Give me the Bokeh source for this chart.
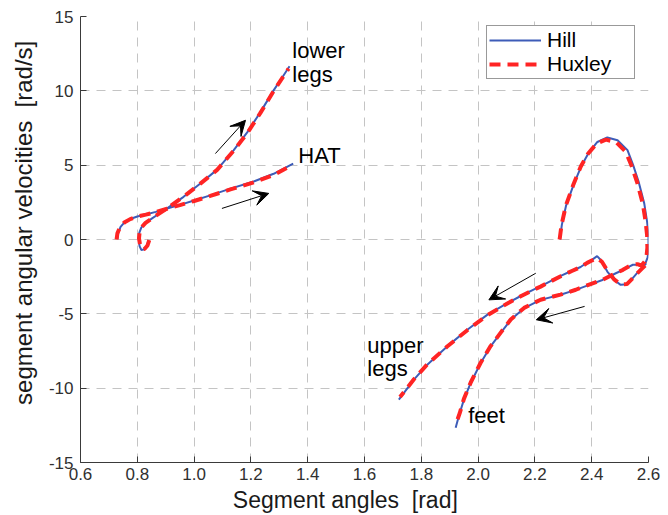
from bokeh.plotting import figure
from bokeh.models import Range1d, FixedTicker, Label, Arrow, VeeHead, Legend, LegendItem
from bokeh.embed import file_html
from bokeh.resources import INLINE

# ---------------- data ----------------
x_ticks = [0.6, 0.8, 1.0, 1.2, 1.4, 1.6, 1.8, 2.0, 2.2, 2.4, 2.6]
x_tick_labels = ["0.6", "0.8", "1.0", "1.2", "1.4", "1.6", "1.8", "2.0", "2.2", "2.4", "2.6"]
y_ticks = [-15, -10, -5, 0, 5, 10, 15]
y_tick_labels = ["-15", "-10", "-5", "0", "5", "10", "15"]

# Hill model
hill_hat_x = [0.730, 0.733, 0.741, 0.755, 0.775, 0.800, 0.830, 0.865, 0.905, 0.950, 1.000, 1.057, 1.128, 1.210, 1.280, 1.349]
hill_hat_y = [0.05, 0.45, 0.85, 1.15, 1.38, 1.55, 1.68, 1.86, 2.09, 2.33, 2.62, 2.97, 3.42, 3.90, 4.42, 5.10]

hill_lower_x = [0.840, 0.833, 0.822, 0.814, 0.808, 0.805, 0.807, 0.814, 0.828, 0.852, 0.878, 0.905, 0.963, 1.022, 1.081, 1.139, 1.187, 1.233, 1.280, 1.312, 1.336]
hill_lower_y = [-0.03, -0.45, -0.68, -0.70, -0.45, 0.05, 0.45, 0.80, 1.10, 1.42, 1.75, 2.09, 2.87, 3.77, 4.70, 6.00, 7.20, 8.55, 10.03, 10.95, 11.65]

hill_upper_x = [2.592, 2.580, 2.565, 2.549, 2.526, 2.502, 2.479, 2.455, 2.432, 2.419, 2.402, 2.384, 2.361, 2.330, 2.291, 2.250, 2.220, 2.197, 2.150, 2.103, 2.032, 1.962, 1.891, 1.821, 1.774, 1.721]
hill_upper_y = [-1.60, -1.85, -2.15, -2.50, -3.01, -3.05, -2.72, -2.16, -1.38, -1.12, -1.35, -1.55, -1.85, -2.10, -2.45, -2.85, -3.15, -3.35, -3.80, -4.28, -5.07, -6.07, -7.19, -8.42, -9.43, -10.77]

hill_feet_x = [2.288, 2.295, 2.310, 2.338, 2.365, 2.390, 2.420, 2.455, 2.491, 2.526, 2.546, 2.565, 2.585, 2.595, 2.600, 2.600, 2.597, 2.590, 2.579, 2.561, 2.545, 2.532, 2.510, 2.485, 2.438, 2.391, 2.344, 2.290, 2.220, 2.162, 2.115, 2.079, 2.044, 2.009, 1.974, 1.950, 1.932, 1.921]
hill_feet_y = [0.00, 1.00, 2.30, 3.77, 5.00, 5.85, 6.56, 6.86, 6.68, 6.01, 5.00, 3.90, 2.43, 1.20, 0.30, -0.59, -1.20, -1.55, -1.80, -1.70, -1.70, -1.82, -2.05, -2.27, -2.72, -3.05, -3.39, -3.72, -4.06, -4.62, -5.40, -6.30, -7.19, -8.31, -9.65, -10.77, -11.89, -12.67]

# Huxley model
hux_hat_x = [0.727, 0.730, 0.739, 0.754, 0.775, 0.800, 0.830, 0.865, 0.905, 0.950, 1.000, 1.057, 1.128, 1.210, 1.280, 1.340]
hux_hat_y = [0.00, 0.42, 0.83, 1.14, 1.37, 1.54, 1.67, 1.85, 2.07, 2.31, 2.59, 2.93, 3.37, 3.84, 4.34, 4.95]

hux_lower_x = [0.842, 0.836, 0.826, 0.818, 0.810, 0.806, 0.808, 0.815, 0.829, 0.852, 0.878, 0.905, 0.963, 1.022, 1.081, 1.139, 1.187, 1.233, 1.280, 1.312, 1.333]
hux_lower_y = [-0.05, -0.40, -0.62, -0.66, -0.40, 0.08, 0.47, 0.82, 1.12, 1.43, 1.76, 2.10, 2.88, 3.76, 4.68, 5.97, 7.15, 8.50, 9.98, 10.90, 11.50]

hux_upper_x = [2.588, 2.576, 2.562, 2.546, 2.524, 2.502, 2.480, 2.457, 2.436, 2.420, 2.402, 2.384, 2.361, 2.330, 2.291, 2.250, 2.220, 2.197, 2.150, 2.103, 2.032, 1.962, 1.891, 1.821, 1.774, 1.725]
hux_upper_y = [-1.75, -1.98, -2.25, -2.58, -3.00, -3.02, -2.70, -2.15, -1.50, -1.25, -1.40, -1.57, -1.86, -2.12, -2.47, -2.87, -3.17, -3.37, -3.82, -4.30, -5.10, -6.10, -7.20, -8.40, -9.40, -10.60]

hux_feet_x = [2.287, 2.294, 2.309, 2.336, 2.362, 2.387, 2.417, 2.450, 2.486, 2.520, 2.541, 2.560, 2.580, 2.590, 2.595, 2.596, 2.593, 2.586, 2.575, 2.561, 2.545, 2.532, 2.510, 2.485, 2.438, 2.391, 2.344, 2.290, 2.220, 2.162, 2.115, 2.079, 2.044, 2.009, 1.974, 1.950, 1.935, 1.924]
hux_feet_y = [0.00, 1.00, 2.28, 3.72, 4.93, 5.77, 6.45, 6.72, 6.55, 5.90, 4.92, 3.85, 2.40, 1.18, 0.28, -0.55, -1.15, -1.50, -1.75, -1.66, -1.68, -1.80, -2.04, -2.26, -2.71, -3.04, -3.38, -3.71, -4.05, -4.60, -5.38, -6.28, -7.17, -8.29, -9.62, -10.72, -11.70, -12.30]

# arrows (annotation positions, data units)
arrow_x_start = [1.075, 1.098, 2.203, 2.375]
arrow_y_start = [5.78, 2.09, -2.27, -4.50]
arrow_x_end = [1.181, 1.263, 2.038, 2.205]
arrow_y_end = [8.02, 3.10, -4.06, -5.40]

# curve labels (annotation positions, data units)
label_texts = ["lower", "legs", "HAT", "upper", "legs", "feet"]
label_x = [1.346, 1.346, 1.367, 1.610, 1.610, 1.965]
label_y = [12.72, 11.11, 5.67, -7.10, -8.65, -11.83]

series_names = ["Hill", "Huxley"]
x_title = "Segment angles\u00a0\u00a0[rad]\u00a0\u00a0\u00a0\u00a0\u00a0\u00a0"
y_title = "\u00a0\u00a0\u00a0\u00a0\u00a0segment angular velocities\u00a0\u00a0[rad/s]"

FONT = "Liberation Sans"

p = figure(width=668, height=515, output_backend="svg", toolbar_location=None,
           x_range=Range1d(0.6, 2.6), y_range=Range1d(-15, 15),
           min_border_left=80, min_border_right=20, min_border_top=16, min_border_bottom=52)
p.outline_line_color = None
p.background_fill_color = "white"
p.border_fill_color = "white"

# grid
for g in (p.xgrid, p.ygrid):
    g.grid_line_color = "#c4c4c4"
    g.grid_line_dash = "9 7"
    g.grid_line_width = 1
p.xaxis.ticker = FixedTicker(ticks=x_ticks)
p.yaxis.ticker = FixedTicker(ticks=y_ticks)
p.xgrid.ticker = FixedTicker(ticks=x_ticks)
p.ygrid.ticker = FixedTicker(ticks=y_ticks)
p.xaxis.major_label_overrides = {t: l for t, l in zip(x_ticks, x_tick_labels)}
p.yaxis.major_label_overrides = {t: l for t, l in zip(y_ticks, y_tick_labels)}

for ax in (p.xaxis, p.yaxis):
    ax.axis_line_color = "#3a3a3a"
    ax.axis_line_width = 1
    ax.major_tick_line_color = "#3a3a3a"
    ax.major_tick_in = 6
    ax.major_tick_out = 0
    ax.minor_tick_line_color = None
    ax.major_label_text_font = FONT
    ax.major_label_text_font_size = "17px"
    ax.major_label_text_color = "#303030"
    ax.axis_label_text_font = FONT
    ax.axis_label_text_font_style = "normal"
    ax.axis_label_text_color = "#1a1a1a"
p.xaxis.axis_label_text_font_size = "23px"
p.yaxis.axis_label_text_font_size = "24px"

p.xaxis.axis_label = x_title
p.yaxis.axis_label = y_title
p.xaxis.major_label_standoff = 5
p.xaxis.axis_label_standoff = 4
p.yaxis.major_label_standoff = 7
p.yaxis.axis_label_standoff = 9

hill = p.multi_line(xs=[hill_hat_x, hill_lower_x, hill_upper_x, hill_feet_x],
                    ys=[hill_hat_y, hill_lower_y, hill_upper_y, hill_feet_y],
                    line_color="#3d5cb8", line_width=2)
hux = p.multi_line(xs=[hux_hat_x, hux_lower_x, hux_upper_x, hux_feet_x],
                   ys=[hux_hat_y, hux_lower_y, hux_upper_y, hux_feet_y],
                   line_color="#ff2424", line_width=4, line_dash="11 7")

for xs, ys, xe, ye in zip(arrow_x_start, arrow_y_start, arrow_x_end, arrow_y_end):
    p.add_layout(Arrow(end=VeeHead(size=15, fill_color="black", line_color="black", line_width=1),
                       x_start=xs, y_start=ys, x_end=xe, y_end=ye,
                       line_color="black", line_width=1))

for t, lx, ly in zip(label_texts, label_x, label_y):
    p.add_layout(Label(x=lx, y=ly, text=t, text_font=FONT, text_font_size="22px",
                       text_color="black", text_baseline="alphabetic", text_align="left"))

legend = Legend(items=[LegendItem(label=series_names[0], renderers=[hill]),
                       LegendItem(label=series_names[1], renderers=[hux])],
                location=(406, 383))
legend.label_text_font = FONT
legend.label_text_font_size = "21px"
legend.label_text_color = "black"
legend.glyph_width = 52
legend.glyph_height = 18
legend.label_height = 18
legend.label_width = 85
legend.label_standoff = 6
legend.padding = 2
legend.spacing = 0
legend.margin = 0
legend.border_line_color = "#333333"
legend.border_line_width = 1
legend.background_fill_color = "white"
legend.background_fill_alpha = 1
p.add_layout(legend, "center")

open("out.html", "w").write(file_html(p, INLINE))
